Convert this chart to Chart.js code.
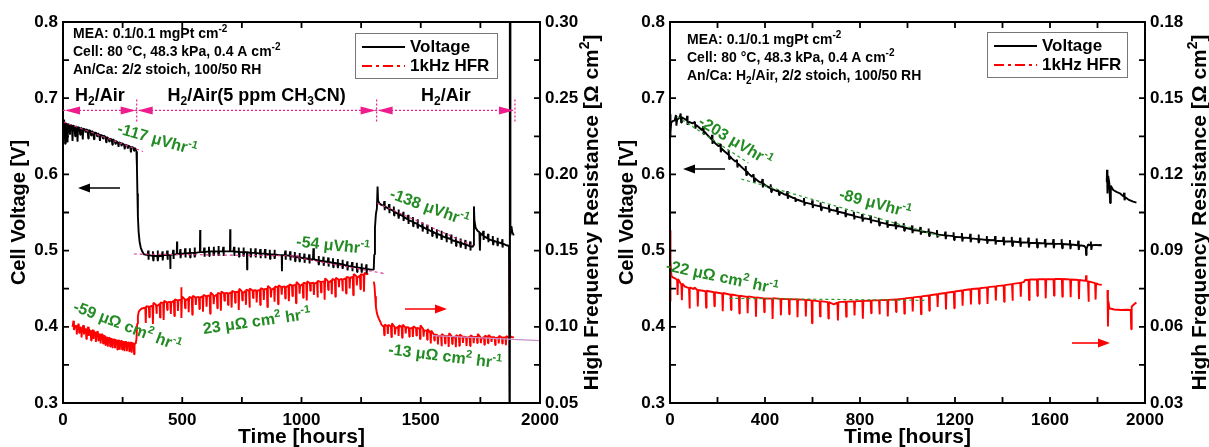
<!DOCTYPE html>
<html>
<head>
<meta charset="utf-8">
<script src="https://cdn.jsdelivr.net/npm/chart.js@4.4.1/dist/chart.umd.min.js"></script>
<style>
html,body{margin:0;padding:0;background:#fff;}
#wrap{position:relative;width:1209px;height:447px;overflow:hidden;}
.pane{position:absolute;top:0;height:447px;}
#p1{left:0;width:604px;}
#p2{left:604px;width:605px;}
</style>
</head>
<body>
<div id="wrap">
 <div class="pane" id="p1"><canvas id="c1"></canvas></div>
 <div class="pane" id="p2"><canvas id="c2"></canvas></div>
</div>
<script>
// ---------- data (hours, V, ohm cm2) ----------
const xTicksL=[0,250,500,750,1000,1250,1500,1750,2000];
const xLabelsL=["0","","500","","1000","","1500","","2000"];
const xTicksR=[0,200,400,600,800,1000,1200,1400,1600,1800,2000];
const xLabelsR=["0","","400","","800","","1200","","1600","","2000"];
const voltTicks=[0.3,0.35,0.4,0.45,0.5,0.55,0.6,0.65,0.7,0.75,0.8];
const voltLabels=["0.3","","0.4","","0.5","","0.6","","0.7","","0.8"];
const hfrTicksL=[0.05,0.075,0.1,0.125,0.15,0.175,0.2,0.225,0.25,0.275,0.3];
const hfrLabelsL=["0.05","","0.10","","0.15","","0.20","","0.25","","0.30"];
const hfrTicksR=[0.03,0.045,0.06,0.075,0.09,0.105,0.12,0.135,0.15,0.165,0.18];
const hfrLabelsR=["0.03","","0.06","","0.09","","0.12","","0.15","","0.18"];

const phaseBounds=[0,309,1315,1895];
const phaseNames=["H_{2}/Air","H_{2}/Air(5 ppm CH_{3}CN)","H_{2}/Air"];
const phaseLevel=0.684;

// left panel: cell voltage
const voltL=[[3,.650],[4,.672],[6,.668],[9,.640],[11,.667],[16,.666],[19,.642],[21,.666],[26,.665],[29,.652],[31,.665],[37,.664],[40,.644],[42,.664],[48,.663],[51,.650],[53,.663],[58,.662],[61,.643],[63,.662],[69,.661],[72,.652],[74,.661],[80,.660],[83,.646],[85,.660],[92,.659],[95,.655],[97,.659],[103,.658],[106,.647],[108,.658],[115,.657],[118,.651],[120,.657],[127,.655],[130,.646],[132,.655],[140,.654],[143,.650],[145,.654],[152,.652],[155,.644],[157,.652],[165,.651],[168,.647],[170,.651],[178,.649],[181,.642],[183,.649],[191,.647],[194,.643],[196,.647],[204,.646],[207,.639],[209,.646],[217,.644],[220,.640],[222,.644],[230,.642],[233,.636],[235,.642],[243,.641],[246,.637],[248,.641],[256,.639],[259,.633],[261,.639],[269,.638],[272,.634],[274,.638],[282,.636],[285,.629],[287,.636],[295,.635],[298,.631],[300,.635],[305,.633],
[308,.630],[310,.610],[312,.575],[314,.545],[317,.525],[321,.512],[326,.504],[332,.499],[340,.495],
[355,.494],[357,.500],[358,.488],[360,.494],[375,.493],[377,.499],[378,.487],[380,.493],[395,.493],[397,.500],[398,.486],[400,.493],[415,.493],[417,.499],[418,.487],[420,.494],[435,.494],[437,.500],[438,.488],[440,.494],[449,.494],[450,.476],[451,.494],[460,.495],[462,.501],[463,.489],[465,.495],[477,.495],[478,.512],[479,.495],[490,.496],[492,.502],[493,.490],[495,.496],[510,.496],[512,.503],[513,.491],[515,.496],[530,.497],[532,.503],[533,.491],[535,.497],[550,.497],[552,.504],[553,.491],[555,.497],[574,.498],[575,.527],[576,.498],[590,.498],[592,.504],[593,.492],[595,.498],[610,.499],[612,.505],[613,.493],[615,.499],[630,.499],[632,.505],[633,.493],[635,.499],[650,.499],[652,.506],[653,.493],[655,.499],[670,.499],[672,.505],[673,.493],[675,.499],[690,.499],[700,.499],[701,.528],[702,.499],[715,.499],[717,.505],[718,.493],[720,.499],[735,.498],[737,.504],[738,.492],[740,.498],[755,.498],[757,.504],[758,.492],[760,.498],[771,.498],[772,.475],[773,.498],[785,.497],[787,.503],[788,.491],[790,.497],[805,.497],[807,.503],[808,.491],[810,.497],[825,.496],[827,.502],[828,.490],[830,.496],[845,.496],[847,.502],[848,.490],[850,.496],[865,.495],[867,.501],[868,.489],[870,.495],[885,.495],[887,.501],[888,.489],[890,.495],[905,.494],[917,.494],[918,.473],[919,.494],[930,.494],[932,.500],[933,.488],[935,.494],[950,.493],[952,.499],[953,.487],[955,.493],[970,.492],[972,.498],[973,.486],[975,.492],[990,.491],[992,.497],[993,.485],[995,.491],[1010,.490],[1012,.496],[1013,.484],[1015,.490],[1030,.489],[1032,.495],[1033,.483],[1035,.489],[1048,.488],[1050,.503],[1052,.490],[1056,.488],[1070,.487],[1072,.493],[1073,.481],[1075,.487],[1090,.486],[1092,.492],[1093,.480],[1095,.486],[1110,.485],[1112,.491],[1113,.479],[1115,.485],[1130,.484],[1132,.490],[1133,.478],[1135,.484],[1150,.483],[1152,.489],[1153,.477],[1155,.483],[1170,.482],[1172,.488],[1173,.476],[1175,.482],[1190,.480],[1192,.486],[1193,.474],[1195,.480],[1210,.479],[1212,.485],[1213,.473],[1215,.479],[1230,.478],[1232,.484],[1233,.472],[1235,.478],[1250,.477],[1252,.483],[1253,.471],[1255,.477],[1270,.476],[1272,.482],[1273,.470],[1275,.476],[1290,.475],[1300,.475],
[1303,.476],[1305,.495],[1308,.530],[1312,.548],[1316,.555],[1319,.584],[1321,.566],[1326,.562],[1335,.560],
[1345,.559],[1347,.565],[1348,.553],[1350,.558],[1365,.555],[1367,.561],[1368,.549],[1370,.555],[1385,.552],[1387,.558],[1388,.546],[1390,.551],[1405,.548],[1407,.554],[1408,.542],[1410,.548],[1425,.545],[1427,.551],[1428,.539],[1430,.544],[1445,.541],[1447,.547],[1448,.535],[1450,.540],[1465,.538],[1467,.544],[1468,.532],[1470,.537],[1485,.535],[1487,.541],[1488,.529],[1490,.534],[1505,.531],[1507,.537],[1508,.525],[1510,.531],[1525,.528],[1527,.534],[1528,.522],[1530,.528],[1545,.525],[1547,.531],[1548,.519],[1550,.525],[1565,.522],[1567,.528],[1568,.516],[1570,.522],[1585,.520],[1587,.526],[1588,.514],[1590,.519],[1605,.517],[1607,.523],[1608,.511],[1610,.517],[1625,.515],[1627,.521],[1628,.509],[1630,.514],[1645,.512],[1647,.518],[1648,.506],[1650,.512],[1665,.510],[1667,.516],[1668,.504],[1670,.510],[1685,.508],[1687,.514],[1688,.502],[1690,.508],[1705,.506],[1707,.512],[1708,.500],[1710,.506],[1718,.505],
[1721,.507],[1723,.558],[1725,.540],[1730,.530],[1738,.526],[1746,.524],[1748,.500],[1750,.523],[1760,.520],[1762,.526],[1763,.514],[1765,.519],[1780,.516],[1782,.522],[1783,.511],[1785,.515],[1800,.513],[1802,.519],[1803,.508],[1805,.513],[1820,.511],[1822,.517],[1823,.506],[1825,.511],[1840,.509],[1842,.515],[1843,.504],[1845,.509],[1860,.507],[1870,.506],
[1872,.30],[1873,.80],[1874,.30],[1875,.80],[1876,.520],[1880,.532],[1884,.524],[1890,.520]];

// left panel: 1 kHz HFR
const hfrL=[[40,.100],[44,.104],[46,.098],[50,.100],[56,.101],[58,.095],[60,.100],[66,.102],[68,.096],[70,.100],[76,.099],[78,.093],[80,.099],[86,.101],[88,.095],[90,.099],[96,.098],[98,.092],[100,.098],[106,.100],[108,.094],[110,.098],[116,.097],[118,.091],[120,.097],[126,.098],[128,.092],[130,.097],[136,.096],[138,.090],[140,.096],[146,.097],[148,.091],[150,.095],[156,.095],[158,.089],[160,.095],[166,.095],[168,.089],[170,.094],[176,.094],[178,.088],[180,.093],[186,.093],[188,.087],[190,.092],[196,.093],[198,.087],[200,.092],[206,.092],[208,.086],[210,.091],[216,.092],[218,.086],[220,.091],[226,.091],[228,.085],[230,.091],[236,.091],[238,.085],[240,.090],[246,.091],[248,.085],[250,.090],[256,.090],[258,.084],[260,.090],[266,.090],[268,.084],[270,.089],[276,.090],[278,.084],[280,.089],[286,.090],[288,.083],[290,.089],[296,.089],[298,.082],[300,.089],[305,.089],
[308,.092],[311,.102],[314,.107],[318,.110],[323,.111],[330,.112],
[345,.1125],[347,.1025],[349,.1135],[360,.1132],[362,.1062],[364,.1132],[375,.1138],[377,.1018],[379,.1158],[390,.1145],[392,.1085],[394,.1135],[405,.1150],[407,.1060],[409,.1160],[420,.1155],[422,.1045],[424,.1170],[435,.1160],[437,.1110],[439,.1160],[450,.1165],[452,.1085],[454,.1160],[465,.1170],[467,.1070],[469,.1180],[480,.1174],[482,.1104],[484,.1174],[495,.1178],[496,.1260],[497,.1058],[499,.1198],[510,.1182],[512,.1122],[514,.1172],[525,.1186],[527,.1096],[529,.1196],[540,.1189],[542,.1079],[544,.1204],[555,.1193],[557,.1143],[559,.1193],[570,.1196],[572,.1116],[574,.1191],[585,.1199],[587,.1099],[589,.1209],[600,.1202],[602,.1132],[604,.1202],[615,.1205],[617,.1085],[619,.1225],[630,.1208],[632,.1148],[634,.1198],[645,.1212],[647,.1122],[649,.1222],[660,.1216],[662,.1106],[664,.1231],[675,.1220],[677,.1170],[679,.1220],[690,.1223],[692,.1143],[694,.1218],[705,.1226],[707,.1126],[709,.1236],[720,.1228],[722,.1158],[724,.1228],[735,.1230],[737,.1110],[739,.1250],[750,.1232],[752,.1172],[754,.1222],[765,.1234],[767,.1144],[769,.1244],[780,.1236],[782,.1126],[784,.1251],[795,.1238],[797,.1188],[799,.1238],[810,.1240],[812,.1160],[814,.1235],[825,.1243],[827,.1143],[829,.1253],[840,.1246],[842,.1176],[844,.1246],[855,.1249],[857,.1129],[859,.1269],[870,.1252],[872,.1192],[874,.1242],[885,.1255],[887,.1165],[889,.1265],[900,.1258],[902,.1148],[904,.1273],[915,.1261],[917,.1211],[919,.1261],[930,.1265],[932,.1185],[934,.1260],[945,.1268],[947,.1168],[949,.1278],[960,.1271],[962,.1201],[964,.1271],[975,.1274],[977,.1154],[979,.1294],[990,.1277],[992,.1217],[994,.1267],[1005,.1280],[1007,.1190],[1009,.1290],[1020,.1283],[1022,.1173],[1024,.1298],[1035,.1286],[1037,.1236],[1039,.1286],[1050,.1289],[1052,.1209],[1054,.1284],[1065,.1292],[1067,.1192],[1069,.1302],[1080,.1295],[1082,.1225],[1084,.1295],[1095,.1298],[1097,.1178],[1099,.1318],[1110,.1301],[1112,.1241],[1114,.1291],[1125,.1304],[1127,.1214],[1129,.1314],[1140,.1307],[1142,.1197],[1144,.1322],[1155,.1310],[1157,.1260],[1159,.1310],[1170,.1314],[1172,.1234],[1174,.1309],[1185,.1318],[1187,.1218],[1189,.1328],[1200,.1322],[1202,.1252],[1204,.1322],[1215,.1327],[1217,.1207],[1219,.1347],[1230,.1332],[1232,.1272],[1234,.1322],[1245,.1336],[1247,.1246],[1249,.1346],[1260,.1340],[1262,.1230],[1264,.1355],[1275,.1345],[1280,.1350],[1290,null],
[1303,.1296],[1306,.127],[1309,.120],[1312,.113],[1316,.109],[1320,.107],[1325,.105],[1330,.1035],[1335,.1015],[1340,.1005],
[1345,.1005],[1347,.0945],[1349,.1015],[1360,.1003],[1362,.0953],[1364,.1013],[1375,.1002],[1377,.0932],[1379,.1022],[1390,.1000],[1392,.0950],[1394,.0990],[1405,.1000],[1407,.0940],[1409,.1010],[1420,.0998],[1422,.0928],[1424,.1013],[1435,.0997],[1437,.0957],[1439,.0997],[1450,.0995],[1452,.0935],[1454,.0990],[1465,.0993],[1467,.0933],[1469,.1003],[1480,.0992],[1482,.0942],[1484,.0992],[1495,.0990],[1497,.0920],[1499,.1010],[1510,.0985],[1512,.0935],[1514,.0975],[1525,.0975],[1527,.0915],[1529,.0985],[1540,.0960],[1542,.0890],[1544,.0975],[1555,.0950],[1557,.0910],[1559,.0950],[1570,.0945],[1572,.0885],[1574,.0940],[1585,.0942],[1587,.0872],[1589,.0952],[1600,.0940],[1602,.0890],[1604,.0940],[1615,.0938],[1617,.0868],[1619,.0958],[1630,.0937],[1632,.0887],[1634,.0927],[1645,.0936],[1647,.0866],[1649,.0946],[1660,.0935],[1662,.0875],[1664,.0950],[1675,.0935],[1677,.0895],[1679,.0935],[1690,.0934],[1692,.0874],[1694,.0929],[1705,.0934],[1707,.0874],[1709,.0944],[1720,.0933],[1722,.0893],[1724,.0933],[1735,.0933],[1737,.0893],[1739,.0953],[1750,.0932],[1752,.0892],[1754,.0922],[1765,.0932],[1767,.0882],[1769,.0942],[1780,.0932],[1782,.0892],[1784,.0947],[1795,.0931],[1797,.0901],[1799,.0931],[1810,.0931],[1812,.0881],[1814,.0926],[1825,.0931],[1827,.0891],[1829,.0941],[1840,.0930],[1842,.0890],[1844,.0930],[1855,.0930],[1857,.0880],[1859,.0940],[1868,.0930],[1872,.0930],[1873,.1440],[1874,.0930],[1878,.0935],[1885,.0930],[1890,.0935]];

// left panel: linear fits
const fitL1=[[0,.669],[335,.630]];
const fitL2=[[297,.4955],[1000,.493]];
const fitL3=[[960,.492],[1345,.470]];
const fitL4=[[1317,.5625],[1713,.5071]];
const fitL5=[[1550,.0942],[2000,.0909]];

// right panel: cell voltage
const voltR=[[0,.650],[1,.679],[3,.655],[5,.668],[12,.670],[20,.671],[25,.678],[27,.664],[30,.672],[40,.674],[45,.680],[47,.668],[50,.675],[60,.673],[70,.671],[72,.677],[74,.665],[80,.669],[95,.667],[105,.669],[107,.660],[110,.665],[119,.6626],[135,.658],[140,.663],[142,.652],[145,.656],[160,.651],[175,.646],[177,.652],[179,.640],[182,.645],[190,.641],[205,.637],[212,.640],[214,.629],[217,.634],[230,.630],[245,.626],[247,.632],[249,.620],[252,.624],[260,.621],[275,.617],[282,.619],[284,.609],[287,.614],[300,.610],[317,.605],[319,.611],[321,.599],[324,.604],[330,.6014],[345,.597],[352,.600],[354,.590],[357,.595],[372,.591],[387,.589],[389,.594],[391,.583],[394,.588],[400,.586],[422,.582],[424,.587],[426,.577],[429,.581],[450,.578],[457,.579],[459,.573],[462,.577],[480,.574],[492,.573],[494,.578],[496,.568],[499,.572],[520,.569],[527,.569],[529,.564],[532,.567],[540,.5664],[562,.564],[564,.569],[566,.559],[569,.563],[597,.561],[599,.566],[601,.556],[604,.560],[632,.558],[634,.563],[636,.553],[639,.557],[667,.555],[669,.560],[671,.550],[674,.554],[681,.5533],[702,.552],[704,.557],[706,.547],[709,.551],[737,.549],[739,.554],[741,.544],[744,.548],[772,.546],[774,.551],[776,.541],[779,.545],[807,.543],[809,.548],[811,.538],[814,.542],[821,.5423],[842,.541],[844,.546],[846,.536],[849,.540],[877,.538],[879,.543],[881,.533],[884,.537],[912,.535],[914,.540],[916,.530],[919,.534],[947,.533],[949,.538],[951,.528],[954,.532],[961,.5323],[982,.531],[984,.536],[986,.526],[989,.530],[1017,.528],[1019,.533],[1021,.523],[1024,.527],[1052,.526],[1054,.531],[1056,.521],[1059,.525],[1087,.524],[1089,.529],[1091,.519],[1094,.524],[1102,.5235],[1122,.522],[1124,.527],[1126,.517],[1129,.521],[1157,.520],[1159,.525],[1161,.515],[1164,.520],[1192,.519],[1194,.524],[1196,.514],[1199,.518],[1227,.5175],[1229,.523],[1231,.512],[1234,.517],[1262,.5165],[1264,.522],[1266,.511],[1269,.516],[1297,.515],[1299,.521],[1301,.510],[1304,.515],[1332,.514],[1334,.519],[1336,.509],[1339,.514],[1367,.5135],[1369,.519],[1371,.508],[1374,.513],[1402,.5125],[1404,.518],[1406,.507],[1409,.512],[1437,.512],[1439,.518],[1441,.506],[1444,.512],[1472,.511],[1474,.517],[1476,.505],[1479,.511],[1507,.5105],[1509,.517],[1511,.504],[1514,.510],[1542,.510],[1544,.516],[1546,.504],[1549,.510],[1577,.5095],[1579,.515],[1581,.504],[1584,.509],[1612,.509],[1614,.515],[1616,.503],[1619,.509],[1647,.5088],[1649,.515],[1651,.503],[1654,.5087],[1682,.508],[1684,.514],[1686,.502],[1689,.508],[1717,.507],[1719,.513],[1721,.501],[1724,.507],[1745,.506],[1751,.503],[1752,.494],[1754,.502],[1760,.508],[1770,.507],[1772,.512],[1774,.501],[1777,.507],[1795,.5075],[1805,.507],[1810,.5074],[1818,.507],[1828,null],
[1839,.590],[1840,.606],[1842,.575],[1845,.598],[1850,.588],[1853,.5625],[1856,.585],[1866,.5795],[1880,.577],[1894,.5752],[1910,.571],[1912,.576],[1914,.566],[1917,.570],[1930,.567],[1950,.5642],[1964,.563]];

// right panel: 1 kHz HFR
const hfrR=[[0,.0980],[1,.0700],[3,.0860],[6,.0800],[12,.0795],[21,.0791],[30,.0785],[32,.0725],[34,.0788],[48,.0765],[50,.0705],[52,.0770],[63,.0758],[80,.0752],[82,.0672],[84,.0755],[100,.0748],[103,.0755],[115,.0745],[117,.0680],[119,.0745],[150,.0740],[152,.0675],[154,.0742],[185,.0736],[187,.0681],[189,.0736],[220,.0731],[222,.0661],[224,.0733],[255,.0726],[257,.0666],[259,.0727],[290,.0722],[292,.0652],[294,.0722],[325,.0718],[327,.0653],[329,.0720],[360,.0715],[362,.0640],[364,.0716],[395,.0712],[397,.0657],[399,.0712],[430,.0711],[432,.0631],[434,.0713],[465,.0710],[467,.0645],[469,.0710],[500,.0709],[502,.0649],[504,.0709],[535,.0708],[537,.0638],[539,.0708],[570,.0706],[572,.0641],[574,.0706],[596,.0704],[598,.0614],[600,.0704],[630,.0700],[632,.0640],[634,.0701],[665,.0697],[667,.0632],[669,.0697],[685,.0690],[690,.0688],[700,.0693],[705,.0695],[707,.0625],[709,.0697],[740,.0699],[742,.0639],[744,.0699],[775,.0700],[777,.0645],[779,.0700],[810,.0702],[812,.0632],[814,.0702],[845,.0703],[847,.0653],[849,.0704],[880,.0704],[882,.0649],[884,.0705],[915,.0706],[917,.0641],[919,.0706],[950,.0708],[952,.0658],[954,.0708],[985,.0711],[987,.0651],[989,.0712],[1020,.0715],[1022,.0660],[1024,.0716],[1055,.0719],[1057,.0649],[1059,.0720],[1090,.0723],[1092,.0663],[1094,.0724],[1125,.0728],[1127,.0678],[1129,.0729],[1160,.0733],[1162,.0668],[1164,.0734],[1195,.0738],[1197,.0673],[1199,.0739],[1230,.0743],[1232,.0683],[1234,.0744],[1265,.0748],[1267,.0688],[1269,.0749],[1300,.0751],[1302,.0691],[1304,.0752],[1335,.0755],[1337,.0690],[1339,.0756],[1370,.0759],[1372,.0704],[1374,.0760],[1405,.0763],[1407,.0698],[1409,.0764],[1440,.0768],[1442,.0703],[1444,.0769],[1475,.0773],[1477,.0718],[1479,.0774],[1490,.0776],[1495,.0784],[1510,.0785],[1512,.0705],[1514,.0786],[1545,.0786],[1547,.0721],[1549,.0787],[1580,.0787],[1582,.0712],[1584,.0787],[1615,.0787],[1617,.0722],[1619,.0788],[1650,.0788],[1652,.0718],[1654,.0788],[1685,.0786],[1687,.0716],[1689,.0786],[1720,.0784],[1722,.0709],[1724,.0784],[1750,.0781],[1752,.0803],[1754,.0780],[1760,.0779],[1762,.0699],[1764,.0779],[1790,.0772],[1792,.0707],[1794,.0771],[1804,.0767],[1818,.0765],[1830,null],
[1842,.0745],[1844,.0601],[1846,.0700],[1850,.0673],[1870,.0668],[1900,.0666],[1925,.0667],[1940,.0666],[1942,.0590],[1944,.0680],[1958,.0692],[1964,.0695]];

// right panel: linear fits
const fitR1=[[30,.676],[330,.615]];
const fitR2=[[300,.594],[1150,.518]];
const fitR3=[[250,.0712],[1080,.0704]];

// ---------- drawing helpers ----------
const FAM='"Liberation Sans", Arial, Helvetica, sans-serif';
Chart.defaults.font.family=FAM;
Chart.defaults.color="#000";
const xy=a=>a.map(p=>({x:p[0],y:p[1]}));

function parts(s){
 const out=[],re=/([_^])\{([^}]*)\}|([^_^]+)/g;let m;
 while((m=re.exec(s))){ if(m[3])out.push([m[3],""]); else out.push([m[2],m[1]]); }
 return out;
}
function rich(ctx,s,x,y,size,o={}){
 const p=parts(s),col=o.color||"#000",al=o.align||"left";
 const f=k=>"bold "+(k?Math.round(size*0.68):size)+"px "+FAM;
 ctx.save();ctx.translate(x,y);ctx.rotate((o.rot||0)*Math.PI/180);
 ctx.fillStyle=col;ctx.textBaseline="middle";ctx.textAlign="left";
 let w=0;p.forEach(([t,k])=>{ctx.font=f(k);w+=ctx.measureText(t).width;});
 let cx=al==="center"?-w/2:al==="right"?-w:0;
 p.forEach(([t,k])=>{ctx.font=f(k);const dy=k==="^"?-size*0.33:k==="_"?size*0.3:0;ctx.fillText(t,cx,dy);cx+=ctx.measureText(t).width;});
 ctx.restore();
}
function arrow(ctx,x1,y,x2,col){
 const d=x2>x1?1:-1;
 ctx.save();ctx.strokeStyle=col;ctx.fillStyle=col;ctx.lineWidth=1.6;
 ctx.beginPath();ctx.moveTo(x1,y);ctx.lineTo(x2-d*8,y);ctx.stroke();
 ctx.beginPath();ctx.moveTo(x2,y);ctx.lineTo(x2-d*12,y-4.5);ctx.lineTo(x2-d*12,y+4.5);ctx.closePath();ctx.fill();
 ctx.restore();
}
function tri(ctx,x,y,dir,col){
 ctx.fillStyle=col;ctx.beginPath();ctx.moveTo(x,y);ctx.lineTo(x-dir*15,y-4);ctx.lineTo(x-dir*15,y+4);ctx.closePath();ctx.fill();
}

const deco={
 id:"deco",
 afterDatasetsDraw(chart,args,o){
  const {ctx,chartArea:a,scales}=chart;const sx=scales.x,sy=scales.y,sy1=scales.y1;
  ctx.save();
  // frame + inward ticks
  ctx.strokeStyle="#000";ctx.lineWidth=2;
  ctx.strokeRect(a.left,a.top,a.right-a.left,a.bottom-a.top);
  ctx.lineWidth=1.8;ctx.beginPath();
  sx.ticks.forEach(t=>{const p=sx.getPixelForValue(t.value);ctx.moveTo(p,a.bottom);ctx.lineTo(p,a.bottom-6);ctx.moveTo(p,a.top);ctx.lineTo(p,a.top+6);});
  sy.ticks.forEach(t=>{const p=sy.getPixelForValue(t.value);ctx.moveTo(a.left,p);ctx.lineTo(a.left+6,p);});
  sy1.ticks.forEach(t=>{const p=sy1.getPixelForValue(t.value);ctx.moveTo(a.right,p);ctx.lineTo(a.right-6,p);});
  ctx.stroke();
  // axis titles
  ctx.save();ctx.translate(o.leftTitleX,(a.top+a.bottom)/2);ctx.rotate(-Math.PI/2);rich(ctx,"Cell Voltage [V]",0,0,20,{align:"center"});ctx.restore();
  ctx.save();ctx.translate(o.rightTitleX,(a.top+a.bottom)/2);ctx.rotate(-Math.PI/2);rich(ctx,"High Frequency Resistance [Ω cm^{2}]",0,0,21,{align:"center"});ctx.restore();
  rich(ctx,"Time [hours]",(a.left+a.right)/2,437,21,{align:"center"});
  // info block
  o.info.forEach((s,i)=>rich(ctx,s,o.infoX,o.infoY+i*18.3,14));
  // legend
  const L=o.legend;
  ctx.strokeStyle="#777";ctx.lineWidth=1;ctx.strokeRect(L.x+.5,L.y+.5,L.w,L.h);
  ctx.lineWidth=2;ctx.strokeStyle="#000";ctx.beginPath();ctx.moveTo(L.x+7,L.y+14);ctx.lineTo(L.x+50,L.y+14);ctx.stroke();
  ctx.strokeStyle="#ff0000";ctx.setLineDash([10,4,3,4]);ctx.beginPath();ctx.moveTo(L.x+7,L.y+33);ctx.lineTo(L.x+50,L.y+33);ctx.stroke();ctx.setLineDash([]);
  rich(ctx,"Voltage",L.x+55,L.y+14,17);rich(ctx,"1kHz HFR",L.x+55,L.y+33,17);
  // phase markers
  if(o.phases){
   const pk="#ee1c8c",py=sy.getPixelForValue(phaseLevel);
   const bx=phaseBounds.map(t=>sx.getPixelForValue(t));
   ctx.strokeStyle=pk;ctx.lineWidth=1.2;ctx.setLineDash([2,2]);
   ctx.beginPath();ctx.moveTo(bx[0],py);ctx.lineTo(bx[bx.length-1],py);
   bx.slice(1).forEach(x=>{ctx.moveTo(x,py-11);ctx.lineTo(x,py+12);});
   ctx.stroke();ctx.setLineDash([]);
   for(let i=0;i<bx.length-1;i++){
    tri(ctx,bx[i]+(i?1:2),py,-1,pk);tri(ctx,bx[i+1]-1,py,1,pk);
    rich(ctx,phaseNames[i],(bx[i]+bx[i+1])/2,py-14,18,{align:"center"});
   }
  }
  // slope notes
  o.notes.forEach(n=>rich(ctx,n[0],n[1],n[2],16,{align:"center",rot:n[3],color:"#238b23"}));
  o.arrows.forEach(r=>arrow(ctx,r[0],r[2],r[1],r[3]));
  ctx.restore();
 }
};

function scalesFor(xt,xl,yt,yl,y1t,y1l,y1min,y1max,lw,rw){
 const fixTicks=arr=>s=>{s.ticks=arr.map(v=>({value:v}));};
 const tf={size:17,weight:"bold"};
 return {
  x:{type:"linear",min:0,max:2000,grid:{display:false,drawTicks:false},border:{display:false},
     afterBuildTicks:fixTicks(xt),afterFit:s=>{s.height=44;},
     ticks:{autoSkip:false,maxRotation:0,padding:7,font:tf,callback:(v,i)=>xl[i]}},
  y:{type:"linear",position:"left",min:0.3,max:0.8,grid:{display:false,drawTicks:false},border:{display:false},
     afterBuildTicks:fixTicks(yt),afterFit:s=>{s.width=lw;},
     ticks:{autoSkip:false,padding:5,font:tf,callback:(v,i)=>yl[i]}},
  y1:{type:"linear",position:"right",min:y1min,max:y1max,grid:{display:false,drawTicks:false},border:{display:false},
     afterBuildTicks:fixTicks(y1t),afterFit:s=>{s.width=rw;},
     ticks:{autoSkip:false,padding:5,font:tf,callback:(v,i)=>y1l[i]}}
 };
}
const line=(data,col,w,axis,dash)=>({data:xy(data),borderColor:col,borderWidth:w,pointRadius:0,yAxisID:axis,borderDash:dash||[],borderJoinStyle:"bevel",tension:0,spanGaps:false});

new Chart(document.getElementById("c1"),{
 type:"line",
 data:{datasets:[
  line(fitL1,"#e0308c",1.1,"y",[3,3]),line(fitL2,"#e0308c",1.1,"y",[3,3]),line(fitL3,"#e0308c",1.1,"y",[3,3]),line(fitL4,"#e0308c",1.1,"y",[3,3]),
  line(fitL5,"#c890c8",1.2,"y1"),
  line(voltL,"#000",1.9,"y"),
  line(hfrL,"#ff0000",1.9,"y1")
 ]},
 options:{responsive:true,maintainAspectRatio:false,animation:false,events:[],
  layout:{padding:{top:22,left:0,right:0,bottom:0}},
  scales:scalesFor(xTicksL,xLabelsL,voltTicks,voltLabels,hfrTicksL,hfrLabelsL,0.05,0.30,63,64),
  plugins:{legend:{display:false},tooltip:{enabled:false},
   deco:{leftTitleX:19,rightTitleX:592,infoX:73,infoY:34,
    info:["MEA: 0.1/0.1 mgPt cm^{-2}","Cell: 80 °C, 48.3 kPa, 0.4 A cm^{-2}","An/Ca: 2/2 stoich, 100/50 RH"],
    legend:{x:355,y:33,w:142,h:45},phases:true,
    notes:[["-117 μVhr^{-1}",157,140,16],["-54 μVhr^{-1}",333,246,6],["-138 μVhr^{-1}",429,208,20],
           ["-59 μΩ cm^{2} hr^{-1}",127,327,21],["23 μΩ cm^{2} hr^{-1}",257,322,-8],["-13 μΩ cm^{2} hr^{-1}",445,357,7]],
    arrows:[[120,78,188,"#000"],[405,447,309,"#ff0000"]]}}},
 plugins:[deco]
});

new Chart(document.getElementById("c2"),{
 type:"line",
 data:{datasets:[
  line(fitR1,"#2a9a2a",1.2,"y",[3,3]),line(fitR2,"#2a9a2a",1.2,"y",[3,3]),line(fitR3,"#2a9a2a",1.2,"y1",[3,3]),
  line(voltR,"#000",1.9,"y"),
  line(hfrR,"#ff0000",1.9,"y1")
 ]},
 options:{responsive:true,maintainAspectRatio:false,animation:false,events:[],
  layout:{padding:{top:22,left:0,right:0,bottom:0}},
  scales:scalesFor(xTicksR,xLabelsR,voltTicks,voltLabels,hfrTicksR,hfrLabelsR,0.03,0.18,66,64),
  plugins:{legend:{display:false},tooltip:{enabled:false},
   deco:{leftTitleX:23,rightTitleX:596,infoX:83,infoY:40,
    info:["MEA: 0.1/0.1 mgPt cm^{-2}","Cell: 80 °C, 48.3 kPa, 0.4 A cm^{-2}","An/Ca: H_{2}/Air, 2/2 stoich, 100/50 RH"],
    legend:{x:383,y:32,w:140,h:45},phases:false,
    notes:[["-203 μVhr^{-1}",131,142,31],["-89 μVhr^{-1}",271,204,15],["-22 μΩ cm^{2} hr^{-1}",118,278,12]],
    arrows:[[121,79,169,"#000"],[468,506,343,"#ff0000"]]}}},
 plugins:[deco]
});
</script>
</body>
</html>
